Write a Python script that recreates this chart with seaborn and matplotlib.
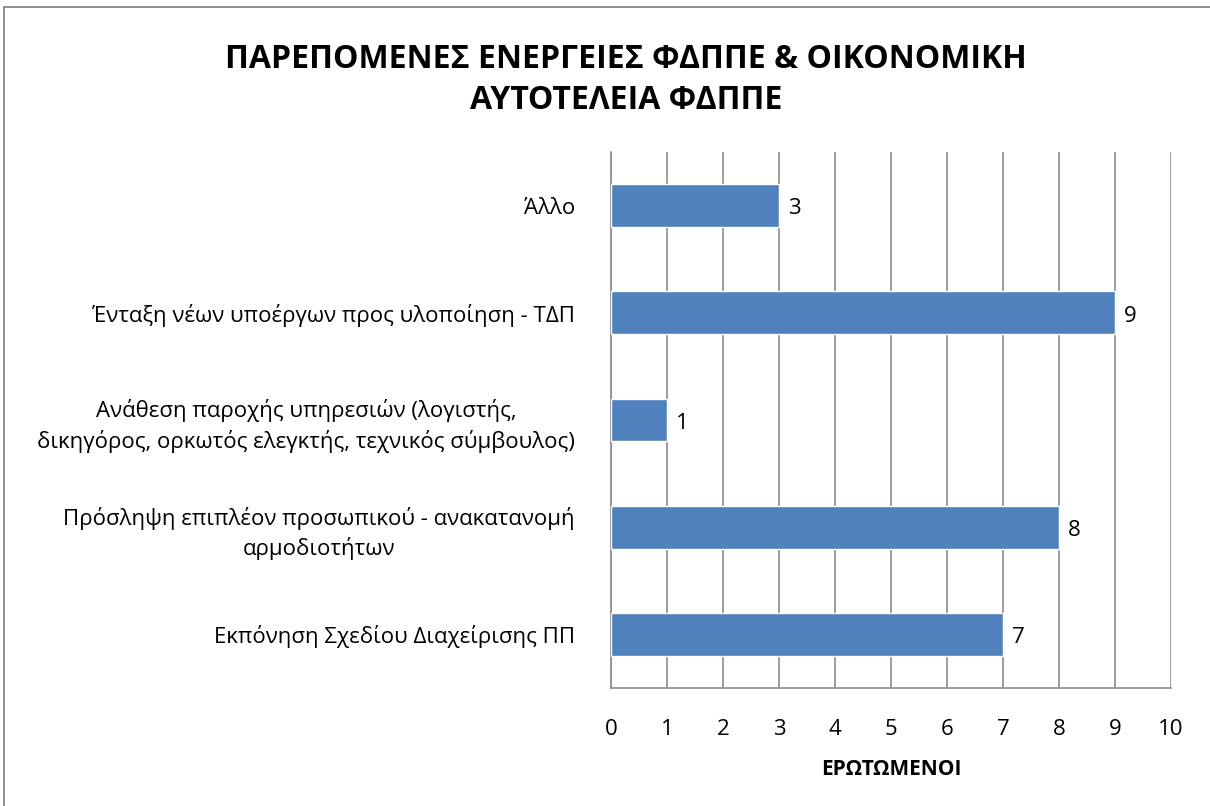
import matplotlib
matplotlib.use("Agg")
import matplotlib.pyplot as plt
import seaborn as sns
import pandas as pd
from matplotlib.lines import Line2D

categories = [
    "Άλλο",
    "Ένταξη νέων υποέργων προς υλοποίηση - ΤΔΠ",
    "Ανάθεση παροχής υπηρεσιών (λογιστής,\nδικηγόρος, ορκωτός ελεγκτής, τεχνικός σύμβουλος)",
    "Πρόσληψη επιπλέον προσωπικού - ανακατανομή\nαρμοδιοτήτων",
    "Εκπόνηση Σχεδίου Διαχείρισης ΠΠ",
]
values = [3, 9, 1, 8, 7]
title_text = "ΠΑΡΕΠΟΜΕΝΕΣ ΕΝΕΡΓΕΙΕΣ ΦΔΠΠΕ & ΟΙΚΟΝΟΜΙΚΗ\nΑΥΤΟΤΕΛΕΙΑ ΦΔΠΠΕ"
xlabel_text = "ΕΡΩΤΩΜΕΝΟΙ"
xticks = list(range(0, 11))

sns.set_theme(style="white")
plt.rcParams["font.family"] = ["Open Sans", "DejaVu Sans"]
plt.rcParams["text.color"] = "black"
plt.rcParams["xtick.color"] = "black"
plt.rcParams["ytick.color"] = "black"
plt.rcParams["axes.labelcolor"] = "black"

df = pd.DataFrame({"cat": categories, "val": values})

fig = plt.figure(figsize=(12.1, 8.06), dpi=100)
ax = fig.add_axes([611/1210, 1-688/806, 560/1210, (688-152)/806])

sns.barplot(data=df, x="val", y="cat", order=categories, orient="h",
            color="#4F81BD", saturation=1, width=0.4, ax=ax, zorder=3)

fs = 16
ax.set_xlim(0, 10)
ax.set_ylim(4.5, -0.5)
ax.set_xticks(xticks)
ax.set_xticklabels([str(t) for t in xticks], fontsize=fs)
ax.tick_params(axis="x", length=0, pad=22, labelcolor="black")
ax.tick_params(axis="y", length=0, pad=26, labelcolor="black")
for lbl in ax.get_yticklabels():
    lbl.set_fontsize(fs)
    lbl.set_multialignment("center")
    lbl.set_linespacing(1.4)
ax.xaxis.grid(True, color="#8C8C8C", linewidth=1.2, zorder=0)
ax.yaxis.grid(False)
for s in ["top", "right"]:
    ax.spines[s].set_visible(False)
for s in ["left", "bottom"]:
    ax.spines[s].set_color("#8C8C8C")
    ax.spines[s].set_linewidth(1.2)

for i, v in enumerate(values):
    ax.text(v + 0.16, i + 0.03, str(v), va="center", ha="left", fontsize=fs, color="black")

ax.set_xlabel(xlabel_text, fontsize=15, fontweight="bold", labelpad=14, color="black")
ax.set_ylabel("")

fig.text(626/1210, 1-80/806, title_text, ha="center", va="center",
         fontsize=23, fontweight="bold", linespacing=1.35, color="black")

fig.add_artist(Line2D([3.5/1210, 3.5/1210], [0, 1-7/806], color="#888888", linewidth=1.3))
fig.add_artist(Line2D([3.5/1210, 1], [1-7/806, 1-7/806], color="#888888", linewidth=1.3))

fig.savefig("out.png", dpi=100)
